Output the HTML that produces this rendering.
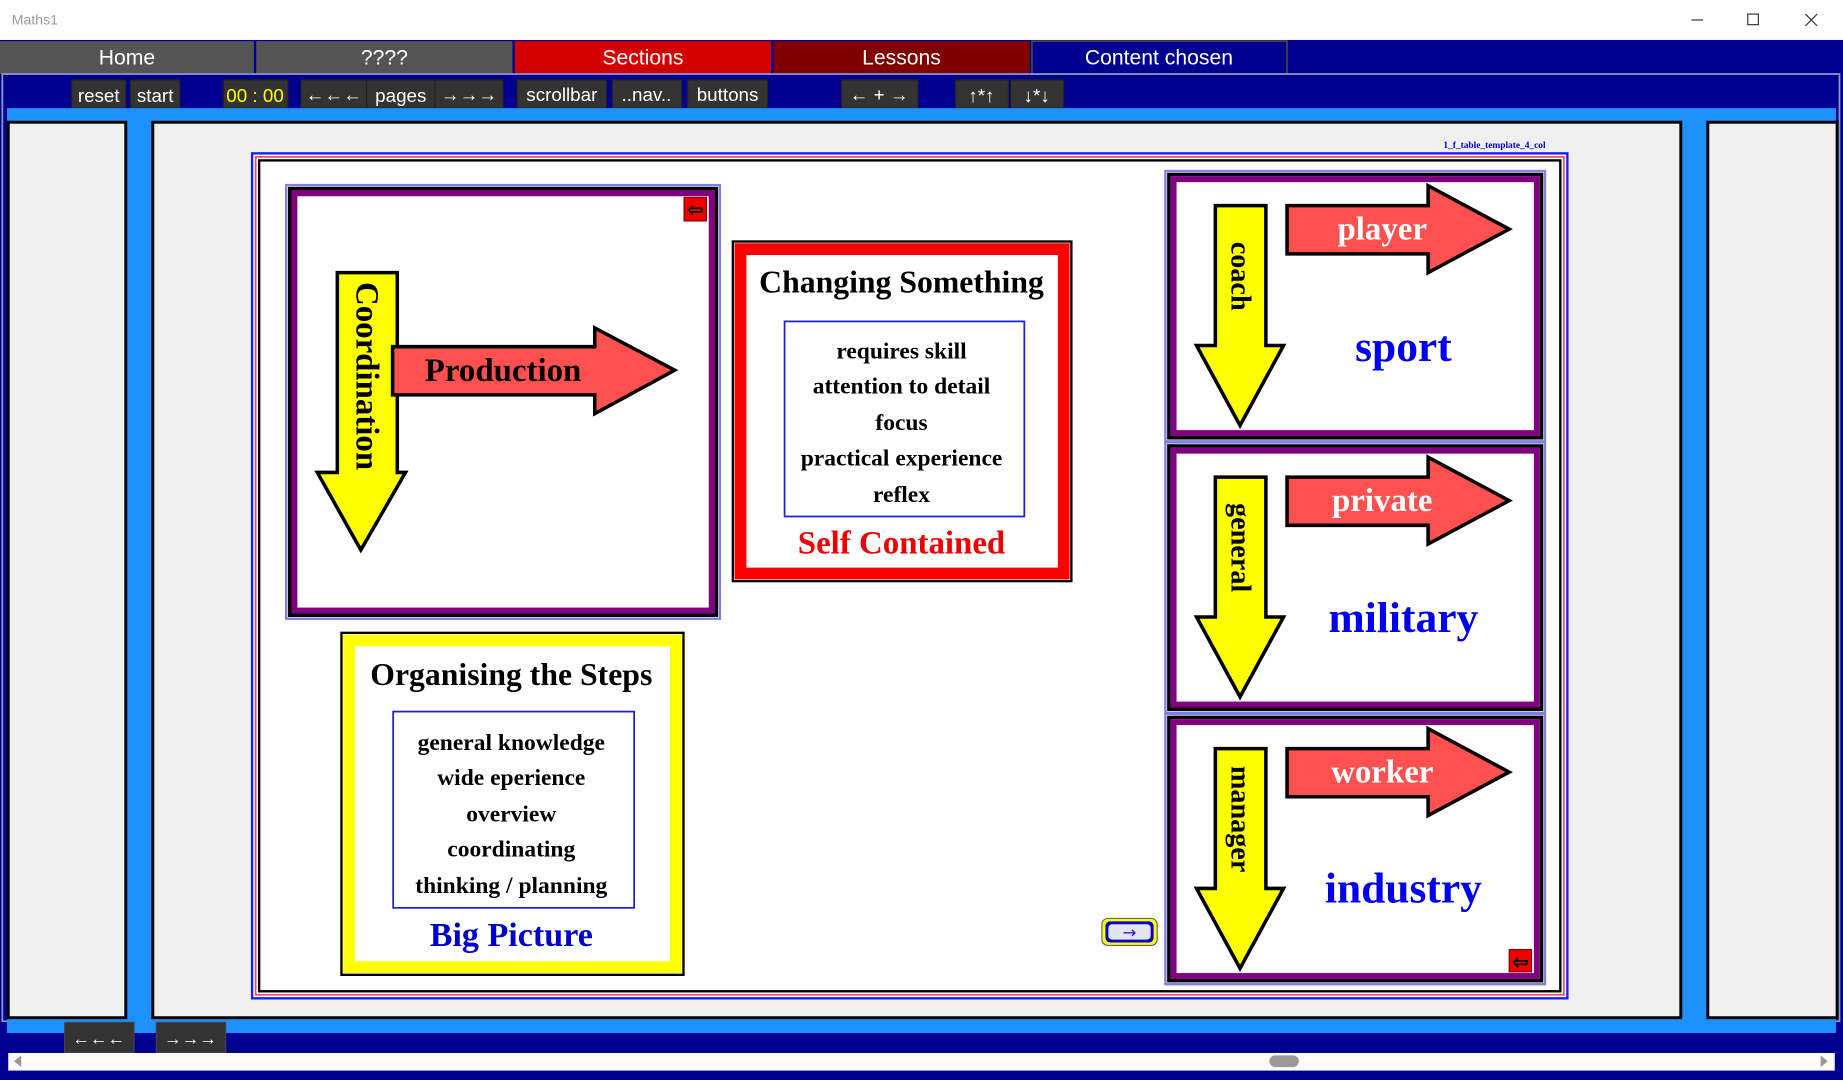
<!DOCTYPE html>
<html><head><meta charset="utf-8"><style>
html,body{margin:0;padding:0;background:#fff;overflow:hidden}
svg{display:block}
.b{font-family:"Liberation Serif",serif;font-weight:700}
.ui{font-family:"Liberation Sans",sans-serif;font-weight:400;fill:#fff}
</style></head><body>
<svg width="1843" height="1080" viewBox="0 0 1568 919" preserveAspectRatio="none" xmlns="http://www.w3.org/2000/svg">
<rect x="0" y="0" width="1568" height="34" fill="#fff"/>
<text x="10" y="21" class="ui" style="fill:#999;font-size:12px">Maths1</text>
<line x1="1439" y1="17" x2="1449" y2="17" stroke="#333" stroke-width="1"/>
<rect x="1487" y="12" width="9" height="9" fill="none" stroke="#333"/>
<path d="M1536 12 L1546 22 M1546 12 L1536 22" stroke="#333"/>
<rect x="0" y="34" width="1568" height="885" fill="#00008e"/>
<rect x="0" y="35" width="216" height="28" fill="#555"/>
<rect x="218" y="35" width="218" height="28" fill="#555"/>
<rect x="438" y="35" width="218" height="28" fill="#d40000"/>
<rect x="658" y="35" width="218" height="28" fill="#800000"/>
<rect x="878" y="35" width="217" height="28" fill="#00008e" stroke="#444" stroke-width="1.5"/>
<g style="font-size:18px" text-anchor="middle">
<text x="108" y="55" class="ui">Home</text><text x="327" y="55" class="ui">????</text>
<text x="547" y="55" class="ui">Sections</text><text x="767" y="55" class="ui">Lessons</text>
<text x="986" y="55" class="ui">Content chosen</text></g>
<rect x="2" y="63" width="1563" height="806" fill="none" stroke="#8899cc" stroke-width="1.5"/>
<g fill="#333" stroke="#222">
<rect x="61" y="68" width="46" height="24"/><rect x="111" y="68" width="42" height="24"/>
<rect x="190" y="68" width="55" height="24"/><rect x="256" y="68" width="56" height="24"/>
<rect x="312" y="68" width="58" height="24"/><rect x="370" y="68" width="58" height="24"/>
<rect x="440" y="68" width="76" height="24"/><rect x="521" y="68" width="59" height="24"/>
<rect x="585" y="68" width="68" height="24"/><rect x="716" y="68" width="65" height="24"/>
<rect x="813" y="68" width="45" height="24"/><rect x="860" y="68" width="45" height="24"/>
</g>
<g style="font-size:16px" text-anchor="middle">
<text x="84" y="87" class="ui">reset</text><text x="132" y="87" class="ui">start</text>
<text x="217" y="87" class="ui" style="fill:#ffff00">00 : 00</text>
<text x="284" y="86" class="ui">←←←</text><text x="341" y="87" class="ui">pages</text><text x="399" y="86" class="ui">→→→</text>
<text x="478" y="86" class="ui">scrollbar</text><text x="550" y="86" class="ui">..nav..</text><text x="619" y="86" class="ui">buttons</text>
<text x="748" y="86" class="ui">← + →</text><text x="835" y="87" class="ui">↑*↑</text><text x="882" y="87" class="ui">↓*↓</text>
</g>
<rect x="6" y="92" width="1556" height="787" fill="#1e90ff"/>
<rect x="7" y="104" width="100" height="762" fill="#f0f0f0" stroke="#000" stroke-width="2.5"/>
<rect x="130" y="104" width="1300" height="762" fill="#f0f0f0" stroke="#000" stroke-width="2.5"/>
<rect x="1453" y="104" width="110" height="762" fill="#f0f0f0" stroke="#000" stroke-width="2.5"/>
<rect x="55" y="870" width="59" height="26" fill="#333" stroke="#444"/>
<rect x="133" y="870" width="59" height="26" fill="#333" stroke="#444"/>
<text x="84" y="889" class="ui" style="font-size:15px" text-anchor="middle">←←←</text>
<text x="162" y="889" class="ui" style="font-size:15px" text-anchor="middle">→→→</text>
<rect x="7" y="896" width="1554" height="15" fill="#fcfcfc"/>
<path d="M12 903 L18 898 L18 908 Z" fill="#999"/>
<path d="M1555 903 L1549 898 L1549 908 Z" fill="#999"/>
<rect x="1080" y="898" width="25" height="10" rx="5" fill="#999"/>
<text x="1228" y="126" class="b" style="font-size:8px;fill:#00c">1_f_table_template_4_col</text>
<rect x="214.5" y="130.5" width="1119" height="719" fill="#fff" stroke="#1a1aff" stroke-width="2"/>
<rect x="217.5" y="133.5" width="1113" height="713" fill="none" stroke="#f05060" stroke-width="1.5"/>
<rect x="220.5" y="136.5" width="1107" height="707" fill="#fff" stroke="#000" stroke-width="2"/>
<rect x="243.5" y="157.5" width="369" height="369" fill="none" stroke="#8080e0" stroke-width="2"/>
<rect x="246.5" y="160.5" width="363" height="363" fill="none" stroke="#000" stroke-width="3"/>
<rect x="250.5" y="164.5" width="355" height="355" fill="#fff" stroke="#800080" stroke-width="5"/>
<rect x="582" y="168" width="19" height="20" fill="#e00" stroke="#800"/>
<text x="591.5" y="184" class="b" style="font-size:16px" text-anchor="middle">⇦</text>
<path d="M287 232 H338 V402 H345 L307 468 L270 402 H287 Z" fill="#ffff00" stroke="#000" stroke-width="3"/>
<text class="b" transform="translate(312,320) rotate(90)" text-anchor="middle" dominant-baseline="central" style="font-size:28px">Coordination</text>
<path d="M334 295 H506 V279 L574 315 L506 352 V336 H334 Z" fill="#ff5050" stroke="#000" stroke-width="3"/>
<text class="b" x="428" y="324" text-anchor="middle" style="font-size:28px">Production</text>
<rect x="623.5" y="205.5" width="288" height="289" fill="#fff" stroke="#000" stroke-width="2"/>
<rect x="630" y="212" width="275" height="276" fill="none" stroke="#f00" stroke-width="10"/>
<text class="b" x="767" y="249" text-anchor="middle" style="font-size:27px">Changing Something</text>
<rect x="667.5" y="273.5" width="204" height="166" fill="none" stroke="#22c" stroke-width="1.5"/>
<g class="b" text-anchor="middle" style="font-size:20px">
<text x="767" y="305">requires skill</text><text x="767" y="335">attention to detail</text>
<text x="767" y="366">focus</text><text x="767" y="396">practical experience</text><text x="767" y="427">reflex</text></g>
<text class="b" x="767" y="471" text-anchor="middle" style="font-size:28px;fill:#e00">Self Contained</text>
<rect x="290.5" y="538.5" width="291" height="291" fill="#fff" stroke="#000" stroke-width="2"/>
<rect x="297" y="545" width="278" height="278" fill="none" stroke="#ff0" stroke-width="10"/>
<text class="b" x="435" y="583" text-anchor="middle" style="font-size:27px">Organising the Steps</text>
<rect x="334.5" y="605.5" width="205" height="167" fill="none" stroke="#22c" stroke-width="1.5"/>
<g class="b" text-anchor="middle" style="font-size:20px">
<text x="435" y="638">general knowledge</text><text x="435" y="668">wide eperience</text>
<text x="435" y="699">overview</text><text x="435" y="729">coordinating</text><text x="435" y="760">thinking / planning</text></g>
<text class="b" x="435" y="805" text-anchor="middle" style="font-size:29px;fill:#00c">Big Picture</text>
<rect x="937.5" y="781.5" width="47" height="23" rx="5" fill="#ffff00" stroke="#666"/>
<rect x="940.5" y="784" width="41" height="18" rx="4" fill="#0000cc"/>
<rect x="943" y="786.5" width="36" height="13" rx="3" fill="#e4e4f0"/>
<text x="961" y="798" text-anchor="middle" style="font-family:'DejaVu Sans',sans-serif;font-size:14px;fill:#22c">→</text>
<g id="c1">
<rect x="991.5" y="145.5" width="323" height="230" fill="none" stroke="#8080e0" stroke-width="2"/>
<rect x="994.5" y="148.5" width="317" height="224" fill="none" stroke="#000" stroke-width="3"/>
<rect x="998.5" y="152.5" width="309" height="216" fill="#fff" stroke="#800080" stroke-width="5"/>
<path d="M1034 175 H1077 V294 H1092 L1055 362 L1018 294 H1034 Z" fill="#ffff00" stroke="#000" stroke-width="3"/>
<path d="M1095 175 H1215 V158 L1284 195 L1215 232 V216 H1095 Z" fill="#ff5050" stroke="#000" stroke-width="3"/>
</g>
<use href="#c1" y="231"/><use href="#c1" y="462"/>
<g class="b" style="font-size:24px" text-anchor="middle" dominant-baseline="central">
<text transform="translate(1055,235) rotate(90)">coach</text>
<text transform="translate(1055,466) rotate(90)">general</text>
<text transform="translate(1055,697) rotate(90)">manager</text></g>
<g class="b" style="font-size:28px;fill:#fff" text-anchor="middle">
<text x="1176" y="204">player</text>
<text x="1176" y="435">private</text>
<text x="1176" y="666">worker</text></g>
<g class="b" style="font-size:37px;fill:#00e" text-anchor="middle">
<text x="1194" y="307">sport</text>
<text x="1194" y="538">military</text>
<text x="1194" y="768">industry</text></g>
<rect x="1284" y="808" width="19" height="19" fill="#e00" stroke="#800"/>
<text class="b" x="1293.5" y="824" style="font-size:16px" text-anchor="middle">⇦</text>
</svg>
</body></html>
